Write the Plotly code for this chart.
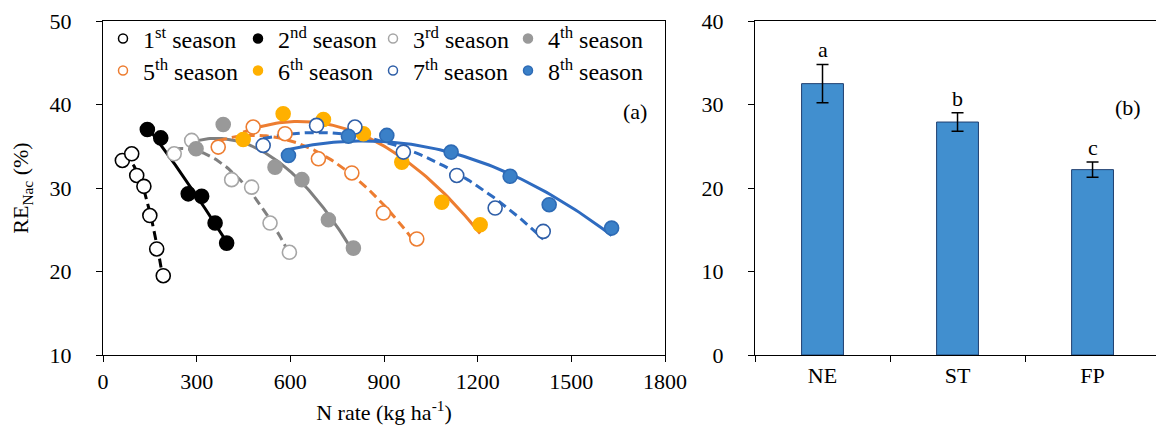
import numpy as np
import plotly.graph_objects as go

# ---------------- data (panel a) ----------------
s1_x = [62, 92, 108, 131, 150, 172, 193]
s1_y = [33.3, 34.1, 31.5, 30.2, 26.7, 22.7, 19.5]
s2_x = [142, 185, 273, 316, 359, 396]
s2_y = [37.0, 36.0, 29.3, 29.0, 25.8, 23.4]
s3_x = [228, 284, 412, 476, 535, 597]
s3_y = [34.1, 35.7, 31.0, 30.1, 25.8, 22.3]
s4_x = [298, 385, 551, 637, 722, 802]
s4_y = [34.7, 37.6, 32.5, 31.0, 26.2, 22.8]
s5_x = [369, 481, 583, 690, 797, 898, 1005]
s5_y = [34.9, 37.3, 36.5, 33.5, 31.8, 27.0, 23.9]
s6_x = [449, 577, 706, 834, 957, 1085, 1208]
s6_y = [35.8, 38.9, 38.2, 36.5, 33.1, 28.3, 25.6]
s7_x = [513, 684, 807, 962, 1133, 1256, 1410]
s7_y = [35.1, 37.5, 37.3, 34.3, 31.5, 27.6, 24.8]
s8_x = [594, 786, 909, 1115, 1304, 1429, 1629]
s8_y = [33.9, 36.2, 36.3, 34.3, 31.4, 28.0, 25.2]

season_names = ["1<sup>st</sup> season", "2<sup>nd</sup> season", "3<sup>rd</sup> season",
                "4<sup>th</sup> season", "5<sup>th</sup> season", "6<sup>th</sup> season",
                "7<sup>th</sup> season", "8<sup>th</sup> season"]

# ---------------- data (panel b) ----------------
bar_cats = ["NE", "ST", "FP"]
bar_vals = [32.5, 27.9, 22.2]
bar_err = [2.3, 1.1, 0.9]
bar_letters = ["a", "b", "c"]

# ---------------- styles ----------------
styles = [
    # (fill, edge, line color, dash)
    ("white", "#000000", "#000000", "dash"),
    ("#000000", "#000000", "#000000", "solid"),
    ("white", "#A6A6A6", "#808080", "dash"),
    ("#999999", "#999999", "#7F7F7F", "solid"),
    ("white", "#ED7D31", "#ED7D31", "dash"),
    ("#FFB000", "#FFB000", "#ED7D31", "solid"),
    ("white", "#2F5FA8", "#2E6BC0", "dash"),
    ("#3A80C8", "#2E6BB5", "#2E6BC0", "solid"),
]
series = [(s1_x, s1_y), (s2_x, s2_y), (s3_x, s3_y), (s4_x, s4_y),
          (s5_x, s5_y), (s6_x, s6_y), (s7_x, s7_y), (s8_x, s8_y)]

FONT = "Liberation Serif, Times New Roman, serif"
fig = go.Figure()

for i, ((xs, ys), (fill, edge, lc, dash)) in enumerate(zip(series, styles)):
    # fitted quadratic trend line
    coef = np.polyfit(xs, ys, 2)
    xf = np.linspace(min(xs), max(xs), 80)
    yf = np.polyval(coef, xf)
    fig.add_trace(go.Scatter(x=xf, y=yf, mode="lines", showlegend=False,
                             line=dict(color=lc, width=3,
                                       dash="9px,5px" if dash == "dash" else "solid"),
                             xaxis="x", yaxis="y", hoverinfo="skip"))
for i, ((xs, ys), (fill, edge, lc, dash)) in enumerate(zip(series, styles)):
    fig.add_trace(go.Scatter(x=xs, y=ys, mode="markers", showlegend=False,
                             marker=dict(size=14, color=fill,
                                         line=dict(color=edge, width=1.6)),
                             xaxis="x", yaxis="y", name=season_names[i]))
# legend entries
for i, (fill, edge, lc, dash) in enumerate(styles):
    fig.add_trace(go.Scatter(x=[None], y=[None], mode="markers", name=season_names[i],
                             marker=dict(size=9, color=fill, line=dict(color=edge, width=1.5)),
                             legend="legend" if i < 4 else "legend2",
                             xaxis="x", yaxis="y"))

# bars
fig.add_trace(go.Bar(x=bar_cats, y=bar_vals, width=0.31, showlegend=False,
                     marker=dict(color="#418FCF", line=dict(color="#1F3F70", width=1)),
                     error_y=dict(type="data", array=bar_err, color="black",
                                  thickness=1.5, width=6),
                     xaxis="x2", yaxis="y2"))

annotations = []
for c, v, e, t in zip(bar_cats, bar_vals, bar_err, bar_letters):
    annotations.append(dict(x=c, y=v + e, xref="x2", yref="y2", text=t, showarrow=False,
                            yanchor="bottom", yshift=0, font=dict(family=FONT, size=22, color="black")))
annotations.append(dict(x=1704, y=39.2, xref="x", yref="y", text="(a)",
                        showarrow=False, font=dict(family=FONT, size=22, color="black")))
annotations.append(dict(x=2.26, y=29.6, xref="x2", yref="y2", text="(b)",
                        showarrow=False, font=dict(family=FONT, size=22, color="black")))

W = 1156.0
axis_common = dict(showgrid=False, zeroline=False, showline=True, linecolor="black",
                   linewidth=1.3, ticks="outside", ticklen=6, tickcolor="black",
                   automargin=False,
                   tickfont=dict(family=FONT, size=22, color="black"))

fig.update_layout(
    width=1156, height=435,
    margin=dict(l=0, r=0, t=21, b=80),
    paper_bgcolor="white", plot_bgcolor="white",
    font=dict(family=FONT, color="black"),
    xaxis=dict(domain=[103 / W, 665 / W], range=[0, 1800], dtick=300, mirror=True,
               title=dict(text="N rate (kg ha<sup>-1</sup>)", font=dict(family=FONT, size=22), standoff=12),
               **axis_common),
    yaxis=dict(domain=[0, 1], range=[10, 50], dtick=10, mirror=True,
               title=dict(text="RE<sub>Nac</sub> (%)", font=dict(family=FONT, size=22), standoff=14),
               ticklabelstandoff=20, **axis_common),
    xaxis2=dict(domain=[755 / W, 1.0], range=[-0.5, 2.47], anchor="y2", mirror=True,
                tickson="boundaries", **axis_common),
    yaxis2=dict(domain=[0, 1], range=[0, 40], dtick=10, anchor="x2", mirror=False,
                ticklabelstandoff=20, **axis_common),
    legend=dict(orientation="h", x=103 / W, y=1.014, xanchor="left", yanchor="top",
                entrywidth=90, font=dict(family=FONT, size=24, color="black"),
                bgcolor="rgba(0,0,0,0)", itemwidth=30, tracegroupgap=0),
    legend2=dict(orientation="h", x=103 / W, y=0.918, xanchor="left", yanchor="top",
                 entrywidth=90, font=dict(family=FONT, size=24, color="black"),
                 bgcolor="rgba(0,0,0,0)", itemwidth=30, tracegroupgap=0),
    annotations=annotations,
    bargap=0.69,
)

fig.write_html("out.html", config={"displayModeBar": False},
               post_script="document.body.style.margin='0px';document.body.style.overflow='hidden';")
